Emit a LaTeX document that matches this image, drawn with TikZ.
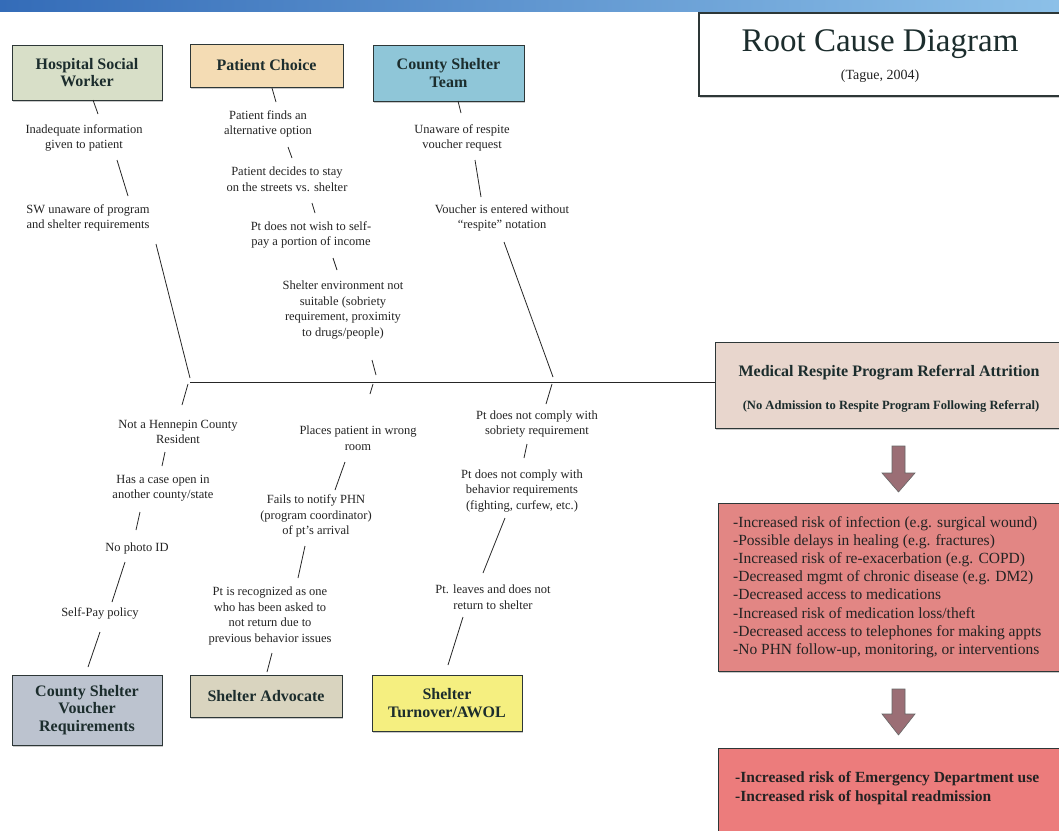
\documentclass[tikz,border=0pt]{standalone}
\usepackage{fontspec}
\setmainfont{Liberation Serif}
\usetikzlibrary{shadows}
\definecolor{bandL}{RGB}{52,108,184}
\definecolor{bandR}{RGB}{140,192,232}
\definecolor{edge}{RGB}{45,55,55}
\definecolor{labeltext}{RGB}{28,45,45}
\definecolor{desctext}{RGB}{35,35,35}
\definecolor{cHSW}{RGB}{216,223,200}
\definecolor{cPC}{RGB}{244,220,180}
\definecolor{cCST}{RGB}{143,198,216}
\definecolor{cCSV}{RGB}{188,195,207}
\definecolor{cSA}{RGB}{217,212,191}
\definecolor{cST}{RGB}{245,239,128}
\definecolor{cMain}{RGB}{232,214,205}
\definecolor{cEff}{RGB}{226,134,132}
\definecolor{cOut}{RGB}{236,124,124}
\definecolor{cArrow}{RGB}{155,110,117}
\tikzset{
  catbox/.style={draw=edge, line width=0.9pt, inner sep=2pt, align=center,
    font=\fontsize{16}{17.5}\selectfont\bfseries, text=labeltext,
    drop shadow={shadow xshift=0.8pt, shadow yshift=-1.6pt, fill=black!35, opacity=0.6}},
  desc/.style={align=center, font=\fontsize{12.5}{15.5}\selectfont, text=desctext, inner sep=1pt},
  bone/.style={line width=0.8pt, draw=black!85},
  effbox/.style={draw=edge, line width=0.9pt,
    drop shadow={shadow xshift=0.8pt, shadow yshift=-1.6pt, fill=black!35, opacity=0.6}},
  blockarrow/.style={fill=cArrow, draw=black!60, line width=0.6pt}
}
\begin{document}
\begin{tikzpicture}[x=1pt,y=-1pt]
\useasboundingbox (0,0) rectangle (1059,830);
\clip (0,0) rectangle (1059,830);
\fill[white] (0,0) rectangle (1059,830);
% top band
\shade[left color=bandL, right color=bandR] (0,0) rectangle (1059,11);

% title box
\draw[effbox, fill=white, line width=1.6pt] (699,13) rectangle (1075,96);
\node[font=\fontsize{33}{36}\selectfont, text=labeltext] (title) at (880,44) {Root Cause Diagram};
\node[font=\fontsize{14}{16}\selectfont, text=desctext] (cite) at (880,76) {(Tague, 2004)};

% category boxes
\node[catbox, fill=cHSW, minimum width=150pt, minimum height=55pt] (hsw) at (87,72.5) {Hospital Social\\Worker};
\node[catbox, fill=cPC, minimum width=153pt, minimum height=43pt] (pc) at (266.5,65.5) {Patient Choice};
\node[catbox, fill=cCST, minimum width=151pt, minimum height=56pt] (cst) at (448.5,73) {County Shelter\\Team};
\node[catbox, fill=cCSV, minimum width=150pt, minimum height=70pt] (csv) at (87,710) {County Shelter\\Voucher\\Requirements};
\node[catbox, fill=cSA, minimum width=152pt, minimum height=42pt] (sa) at (266,696) {Shelter Advocate};
\node[catbox, fill=cST, minimum width=150pt, minimum height=56pt] (st) at (447,703) {Shelter\\Turnover/AWOL};

% effect boxes
\draw[effbox, fill=cMain] (715,342) rectangle (1075,428);
\node[font=\fontsize{16}{18}\selectfont\bfseries, text=labeltext] (effect) at (889,373) {Medical Respite Program Referral Attrition};
\node[font=\fontsize{12.6}{14}\selectfont\bfseries, text=labeltext] (effect2) at (891,406) {(No Admission to Respite Program Following Referral)};

\draw[effbox, fill=cEff] (718,503) rectangle (1075,671);
\node[anchor=west, align=left, inner sep=0pt, font=\fontsize{15.5}{18.2}\selectfont, text=desctext] (risks) at (733,587)
{-Increased risk of infection (e.g. surgical wound)\\
-Possible delays in healing (e.g. fractures)\\
-Increased risk of re-exacerbation (e.g. COPD)\\
-Decreased mgmt of chronic disease (e.g. DM2)\\
-Decreased access to medications\\
-Increased risk of medication loss/theft\\
-Decreased access to telephones for making appts\\
-No PHN follow-up, monitoring, or interventions};

\draw[effbox, fill=cOut] (718,748) rectangle (1075,850);
\node[anchor=west, align=left, inner sep=0pt, font=\fontsize{15.5}{19}\selectfont\bfseries, text=desctext] (outcome) at (735,788)
{-Increased risk of Emergency Department use\\
-Increased risk of hospital readmission};

% block arrows
\draw[blockarrow] (892,446) -- (905,446) -- (905,473) -- (915,473) -- (898.5,492) -- (882,473) -- (892,473) -- cycle;
\draw[blockarrow] (892,689) -- (905,689) -- (905,714) -- (915,714) -- (898.5,735) -- (882,714) -- (892,714) -- cycle;

% spine
\coordinate (spL) at (190,382);
\coordinate (spR) at (715,382);
\draw[bone] (spL) -- (spR);

% Hospital Social Worker bone
\draw[bone] (93,100) -- (98,114);
\node[desc] (h1) at (84,138) {Inadequate information\\given to patient};
\draw[bone] (117,160) -- (128,196);
\node[desc] (h2) at (88,218) {SW unaware of program\\and shelter requirements};
\draw[bone] (156,244) -- (190,378);

% Patient Choice bone
\draw[bone] (272,88) -- (276,102);
\node[desc] (p1) at (268,124) {Patient finds an\\alternative option};
\draw[bone] (288,147) -- (292,158);
\node[desc] (p2) at (287,179) {Patient decides to stay\\on the streets vs. shelter};
\draw[bone] (312,203) -- (315,213);
\node[desc] (p3) at (311,235) {Pt does not wish to self-\\pay a portion of income};
\draw[bone] (333,258) -- (337,270);
\node[desc] (p4) at (343,310) {Shelter environment not\\suitable (sobriety\\requirement, proximity\\to drugs/people)};
\draw[bone] (372,360) -- (376,375);

% County Shelter Team bone
\draw[bone] (458,101) -- (461,113);
\node[desc] (c1) at (462,138) {Unaware of respite\\voucher request};
\draw[bone] (475,160) -- (481,197);
\node[desc] (c2) at (502,218) {Voucher is entered without\\``respite'' notation};
\draw[bone] (504,242) -- (553,377);

% County Shelter Voucher bone
\draw[bone] (188,384) -- (182,405);
\node[desc] (v1) at (178,432) {Not a Hennepin County\\Resident};
\draw[bone] (165,452) -- (162,466);
\node[desc] (v2) at (163,488) {Has a case open in\\another county/state};
\draw[bone] (140,512) -- (136,530);
\node[desc] (v3) at (137,548) {No photo ID};
\draw[bone] (125,562) -- (112,602);
\node[desc] (v4) at (100,613) {Self-Pay policy};
\draw[bone] (100,632) -- (88,667);

% Shelter Advocate bone
\draw[bone] (373,384) -- (370,394);
\node[desc] (a1) at (358,438) {Places patient in wrong\\room};
\draw[bone] (345,462) -- (335,490);
\node[desc] (a2) at (316,516) {Fails to notify PHN\\(program coordinator)\\of pt's arrival};
\draw[bone] (305,546) -- (298,578);
\node[desc] (a3) at (270,616) {Pt is recognized as one\\who has been asked to\\not return due to\\previous behavior issues};
\draw[bone] (272,653) -- (267,672);

% Shelter Turnover bone
\draw[bone] (552,384) -- (546,404);
\node[desc] (t1) at (537,424) {Pt does not comply with\\sobriety requirement};
\draw[bone] (527,444) -- (524,458);
\node[desc] (t2) at (522,491) {Pt does not comply with\\behavior requirements\\(fighting, curfew, etc.)};
\draw[bone] (505,518) -- (483,573);
\node[desc] (t3) at (493,597) {Pt. leaves and does not\\return to shelter};
\draw[bone] (463,617) -- (448,665);
\end{tikzpicture}
\end{document}
